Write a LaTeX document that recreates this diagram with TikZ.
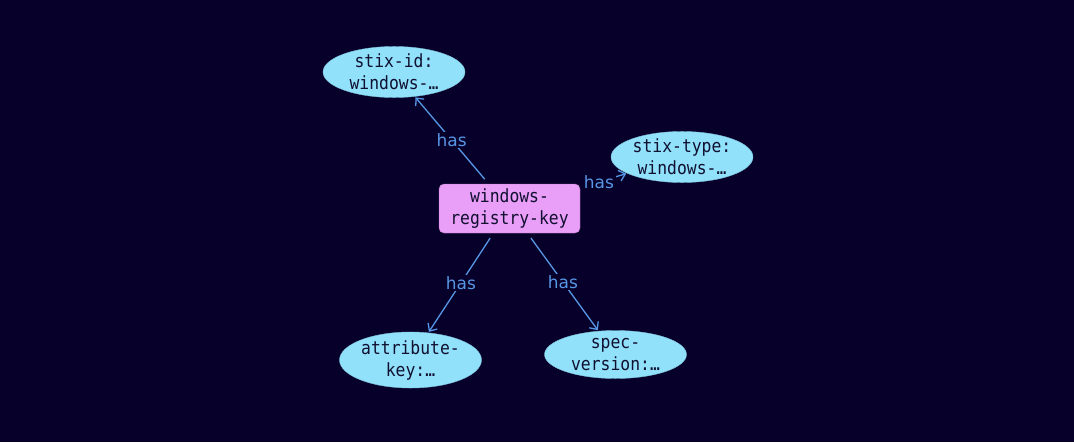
\documentclass[tikz,border=0pt]{standalone}
\usepackage{fontspec}
\usetikzlibrary{shapes.geometric, arrows.meta}
\newfontfamily\nodefont[FakeStretch=0.9]{DejaVu Sans Mono}
\newfontfamily\labelfont{DejaVu Sans}
\definecolor{bgnavy}{HTML}{06002A}
\definecolor{boxpink}{HTML}{E99EF7}
\definecolor{ovalblue}{HTML}{92E1FB}
\definecolor{linkblue}{HTML}{5896E6}
\definecolor{inktext}{HTML}{101030}

\begin{document}
\begin{tikzpicture}[x=1pt, y=-1pt,
	block/.style = { rectangle, rounded corners=5pt, draw=boxpink!80!black,
	fill=boxpink, minimum width=141pt, minimum height=49pt, inner sep=0pt,
	text=inktext, align=center, font=\nodefont\fontsize{18.2}{22}\selectfont },
	prop/.style = { ellipse, draw=ovalblue!85!black, fill=ovalblue,
	minimum width=142pt, minimum height=48pt, inner sep=0pt,
	text=inktext, align=center, font=\nodefont\fontsize{18.2}{22}\selectfont },
	link/.style = { draw=linkblue, line width=1.3pt,
	-{Straight Barb[length=6pt, width=11pt]}, shorten <=6pt, shorten >=1pt },
	has/.style = { midway, fill=bgnavy, inner sep=1.5pt, text=linkblue,
	font=\labelfont\fontsize{17}{19}\selectfont } ]

  \fill [bgnavy] (0,0) rectangle (1074,442);
  \useasboundingbox (0,0) rectangle (1074,442);

  \node [name=regkey, block] at (509.5,208.5) { windows-\\registry-key };
  \node [name=stixid, prop] at (394,72) { stix-id:\\windows-… };
  \node [name=stixtype, prop] at (682,157) { stix-type:\\windows-… };
  \node [name=attrkey, prop] at (410.5,360) { attribute-\\key:… };
  \node [name=specver, prop] at (615.5,354.5) { spec-\\version:… };

  \draw [link] (regkey) -- node [has] {has} (stixid);
  \draw [link] (regkey) -- node [has, pos=0.4] {has} (stixtype);
  \draw [link] (regkey) -- node [has] {has} (attrkey);
  \draw [link] (regkey) -- node [has] {has} (specver);
\end{tikzpicture}
\end{document}
